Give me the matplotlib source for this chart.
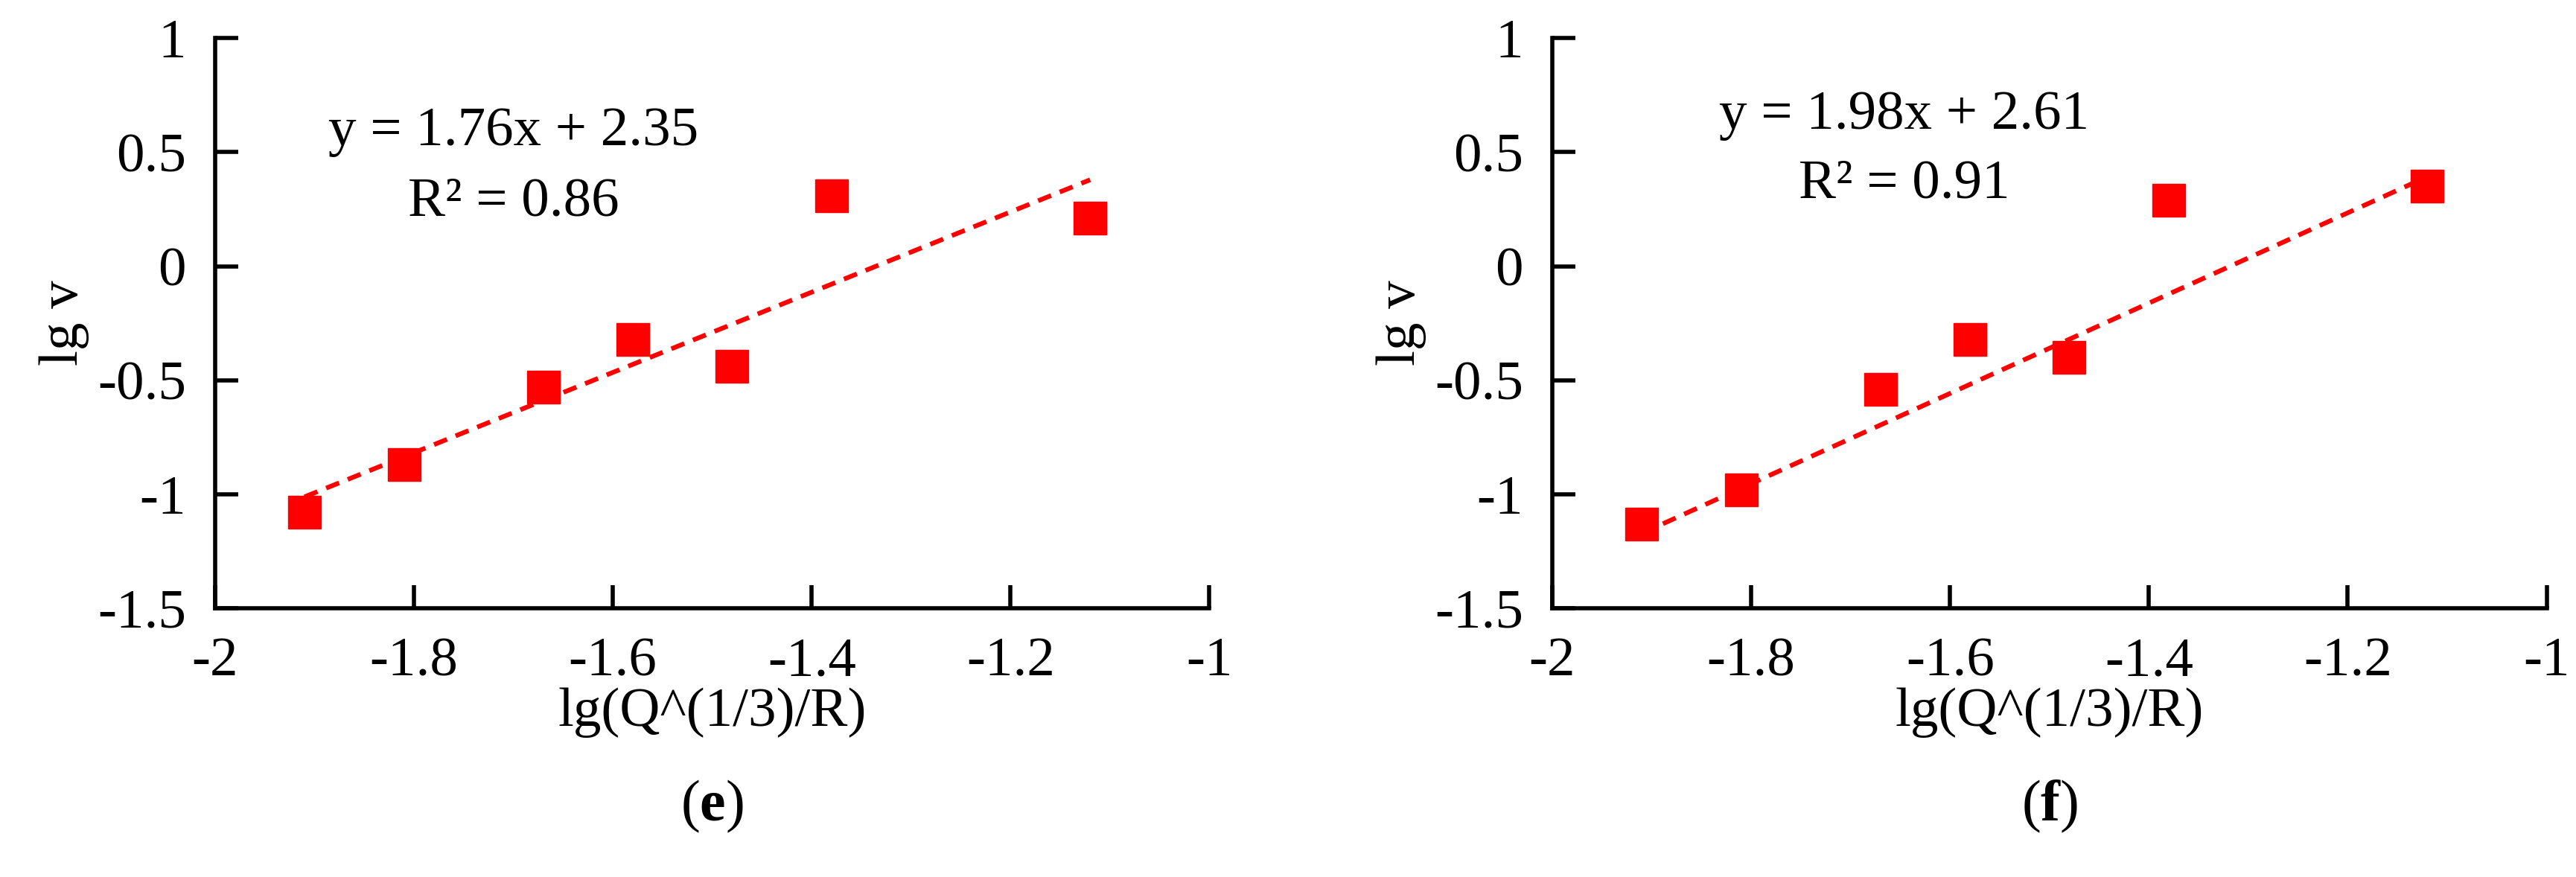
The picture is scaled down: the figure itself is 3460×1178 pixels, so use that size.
import matplotlib
matplotlib.use('Agg')
import matplotlib.pyplot as plt
import numpy as np

plt.rcParams['font.family'] = ['Liberation Serif', 'DejaVu Serif']
plt.rcParams['mathtext.fontset'] = 'custom'
plt.rcParams['mathtext.rm'] = 'Liberation Serif'
plt.rcParams['mathtext.bf'] = 'Liberation Serif:bold'

x_vals = [-1.91, -1.81, -1.67, -1.58, -1.48, -1.38, -1.12]
y_e = [-1.08, -0.87, -0.53, -0.32, -0.44, 0.31, 0.21]
y_f = [-1.13, -0.98, -0.54, -0.32, -0.40, 0.29, 0.35]
fit_e = (1.76, 2.35, 0.86)
fit_f = (1.98, 2.61, 0.91)
xticks = [-2, -1.8, -1.6, -1.4, -1.2, -1]
yticks = [-1.5, -1, -0.5, 0, 0.5, 1]

fig = plt.figure(figsize=(34.6, 11.78), dpi=100)
panels = [
    (0.0835, y_e, fit_e, 'e', (-1.70, 0.59), (-1.70, 0.28)),
    (0.6026, y_f, fit_f, 'f', (-1.646, 0.66), (-1.646, 0.36)),
]
for left, ys, fit, tag, eqpos, r2pos in panels:
    ax = fig.add_axes([left, 0.3065, 0.386, 0.650])
    ax.plot(x_vals, ys, 's', color='#ff0000', markersize=31, zorder=3)
    m, b, r2 = fit
    xl = np.array([min(x_vals), max(x_vals)])
    ax.plot(xl, m * xl + b, '--', color='#ff0000', linewidth=4.5, dashes=(3, 2))
    ax.text(*eqpos, f'y = {m:.2f}x + {b:.2f}', fontsize=54, ha='center', va='center')
    ax.text(*r2pos, f'R² = {r2:.2f}', fontsize=54, ha='center', va='center')
    ax.set_xlim(-2, -1)
    ax.set_ylim(-1.5, 1)
    ax.set_xticks(xticks)
    ax.set_xticklabels(['-2', '-1.8', '-1.6', '-1.4', '-1.2', '-1'])
    ax.set_yticks(yticks)
    ax.set_yticklabels(['-1.5', '-1', '-0.5', '0', '0.5', '1'])
    for s in ['top', 'right']:
        ax.spines[s].set_visible(False)
    for s in ['left', 'bottom']:
        ax.spines[s].set_linewidth(4)
    ax.tick_params(direction='in', length=22, width=4, labelsize=54, pad=28)
    ax.set_xlabel('lg(Q^(1/3)/R)', fontsize=54, labelpad=0)
    ax.set_ylabel('lg v', fontsize=54, labelpad=8)
    fig.text(left + 0.193, 0.08, '(' + r'$\mathbf{' + tag + '}$' + ')', fontsize=56,
             ha='center', va='center')

fig.savefig('out.png', dpi=100)
